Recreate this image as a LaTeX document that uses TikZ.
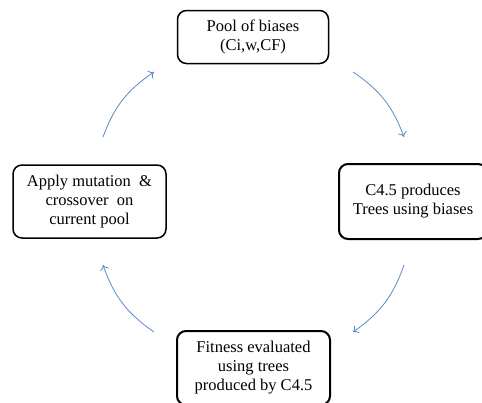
\documentclass[tikz,border=0pt]{standalone}
\usepackage{fontspec}
\setmainfont{Liberation Serif}
\usepackage{tikz}
\usetikzlibrary{arrows.meta,positioning,calc}

\definecolor{arrowblue}{RGB}{91,139,198}

\begin{document}
\begin{tikzpicture}[
                    x=1pt, y=-1pt,
                    roundbox/.style={draw, rounded corners=9pt, line width=1.5pt, align=center,
                                     inner sep=0pt, font=\fontsize{16.5}{19}\selectfont},
                    thickbox/.style={roundbox, line width=2pt},
                    cyclearrow/.style={draw=arrowblue, line width=0.8pt, -{To[length=5pt,width=9pt]}, bend left=18}
                ]
                    \useasboundingbox (0,0) rectangle (482,402);
                    \begin{scope}
                    \clip (0,0) rectangle (482,402);
                    \node[roundbox, minimum width=151pt, minimum height=53pt] (pool) at (253,37) {Pool of biases\\(Ci,w,CF)};
                    \node[thickbox, minimum width=148pt, minimum height=75pt] (trees) at (413,201.5) {C4.5 produces\\Trees using biases};
                    \node[thickbox, minimum width=153pt, minimum height=74pt] (fitness) at (253.5,368) {Fitness evaluated\\using trees\\produced by C4.5};
                    \node[roundbox, minimum width=153pt, minimum height=73pt] (mutate) at (89.5,201.5) {Apply mutation \ \&\\crossover \ on\\current pool};
                    \end{scope}
                    
                    % free ends of the cycle arrows
                    \coordinate (a1) at (103,137);
                    \coordinate (b1) at (154,72);
                    \coordinate (a2) at (353,72);
                    \coordinate (b2) at (404,137);
                    \coordinate (a3) at (404,265);
                    \coordinate (b3) at (353,332);
                    \coordinate (a4) at (154,332);
                    \coordinate (b4) at (103,265);
                    
                    \draw[cyclearrow] (a1) to (b1);
                    \draw[cyclearrow] (a2) to (b2);
                    \draw[cyclearrow] (a3) to (b3);
                    \draw[cyclearrow] (a4) to (b4);
                \end{tikzpicture}
\end{document}
